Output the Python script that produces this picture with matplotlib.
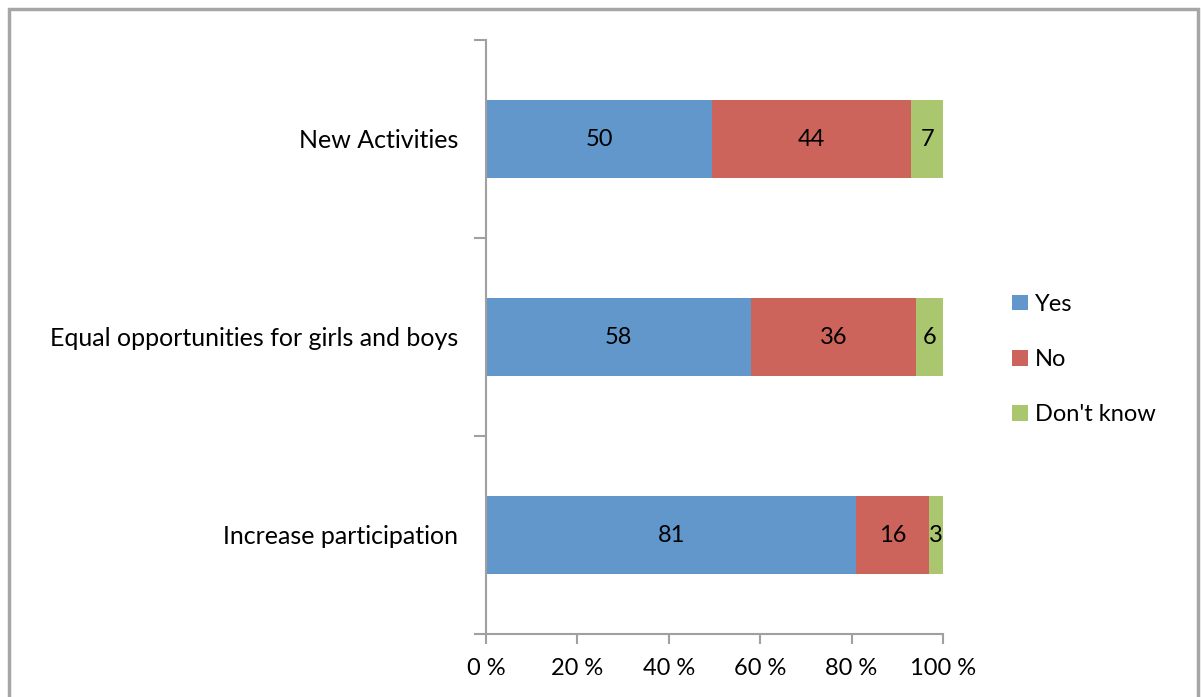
import numpy as np
import matplotlib.pyplot as plt
from matplotlib.patches import Rectangle

# Data
categories = ['Increase participation', 'Equal opportunities for girls and boys', 'New Activities']
yes = [81, 58, 50]
no = [16, 36, 44]
dont_know = [3, 6, 7]
series_names = ['Yes', 'No', "Don't know"]
colors = ['#6197CA', '#CD645C', '#AAC66E']
x_ticks = [0, 20, 40, 60, 80, 100]
x_tick_labels = ['0 %', '20 %', '40 %', '60 %', '80 %', '100 %']

plt.rcParams['font.family'] = ['Lato', 'DejaVu Sans']

fig = plt.figure(figsize=(12.02, 6.97), dpi=100)
ax = fig.add_axes([486 / 1202, 63 / 697, 457 / 1202, 594 / 697])

values = np.array([yes, no, dont_know], dtype=float)
totals = values.sum(axis=0)
percents = values / totals * 100

ypos = np.arange(len(categories))
left = np.zeros(len(categories))
for i, name in enumerate(series_names):
    ax.barh(ypos, percents[i], left=left, height=0.39, color=colors[i],
            label=name, edgecolor='none')
    for j in range(len(categories)):
        ax.text(left[j] + percents[i][j] / 2, ypos[j], str(int(values[i][j])),
                ha='center', va='center', fontsize=17, color='black')
    left += percents[i]

ax.set_xlim(0, 100)
ax.set_ylim(-0.5, len(categories) - 0.5)

# axis style
gray = '#A0A0A0'
for side in ['top', 'right']:
    ax.spines[side].set_visible(False)
for side in ['left', 'bottom']:
    ax.spines[side].set_color(gray)
    ax.spines[side].set_linewidth(1.5)

ax.set_xticks(x_ticks)
ax.set_xticklabels(x_tick_labels, fontsize=17)
ax.tick_params(axis='x', direction='out', length=7, width=1.5, color=gray, pad=10)

ax.set_yticks(ypos)
ax.set_yticklabels(categories, fontsize=18)
ax.tick_params(axis='y', which='major', length=0, pad=20)
ax.set_yticks(np.arange(-0.5, len(categories), 1.0), minor=True)
ax.tick_params(axis='y', which='minor', direction='out', length=9, width=1.5, color=gray)

leg = ax.legend(loc='center left', bbox_to_anchor=(1.105, 0.462), frameon=False,
                fontsize=17, handlelength=0.65, handleheight=0.65,
                handletextpad=0.3, labelspacing=1.45)

# outer frame
fig.patches.append(Rectangle((9 / 1202, -0.05), 1189 / 1202, 1.05 - 9 / 697,
                             transform=fig.transFigure, fill=False,
                             edgecolor='#A6A6A6', linewidth=2.5, clip_on=False))

fig.savefig('out.png', dpi=100)
